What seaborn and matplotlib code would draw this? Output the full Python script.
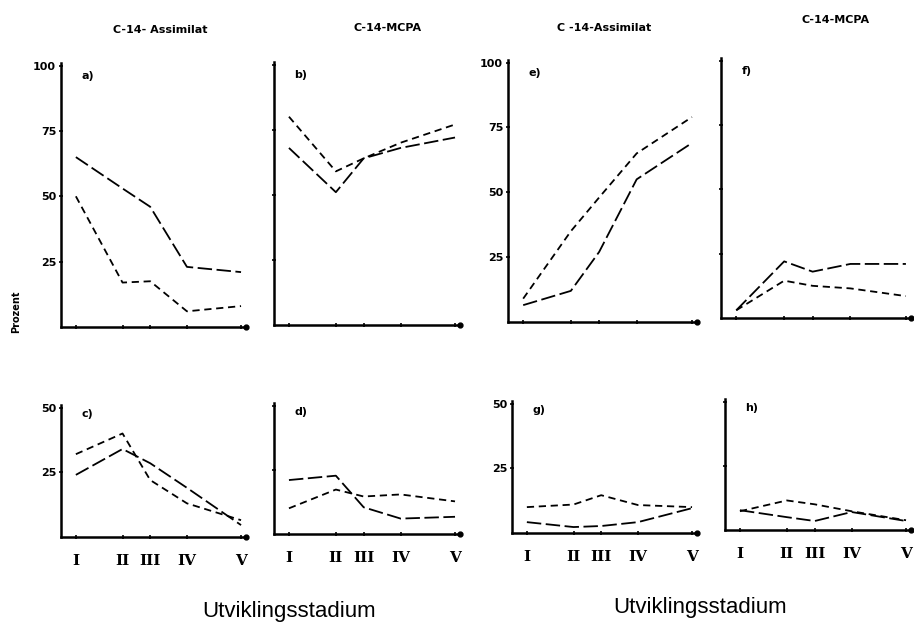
import numpy as np
import pandas as pd
import matplotlib.pyplot as plt
import seaborn as sns

#%% data (long dash / short dash curve per panel)
stages = ['I', 'II', 'III', 'IV', 'V']
stage_pos = [1, 2.13, 2.8, 3.69, 5]     # stages are not evenly spaced on the axis

a_long = [65, 53, 46, 23, 21]
a_short = [50, 17, 17.5, 6, 8]
b_long = [68, 51, 64, 68, 72]
b_short = [80, 59, 64, 70, 77]
c_long = [24, 34, 28.5, 19, 4.6]
c_short = [32, 40, 22, 13, 6.5]
d_long = [21, 22.7, 10.4, 6, 6.7]
d_short = [10, 17.3, 14.6, 15.4, 12.7]
e_long = [6.5, 12, 27, 55, 69]
e_short = [9, 35, 48, 65, 79]
f_long = [3, 22, 18, 21, 21]
f_short = [3, 14.5, 12.5, 11.5, 8.5]
g_long = [4.2, 2.3, 2.7, 4.2, 9.6]
g_short = [10, 11, 14.6, 10.8, 10]
h_long = [7.7, 5, 3.5, 7, 3.5]
h_short = [7.3, 11.5, 10, 7.3, 3.8]

panel_data = {
    'a': (a_long, a_short), 'b': (b_long, b_short),
    'c': (c_long, c_short), 'd': (d_long, d_short),
    'e': (e_long, e_short), 'f': (f_long, f_short),
    'g': (g_long, g_short), 'h': (h_long, h_short),
}

rows = []
for p, (lng, sht) in panel_data.items():
    for name, vals in (('long', lng), ('short', sht)):
        for pos, v in zip(stage_pos, vals):
            rows.append({'panel': p, 'series': name, 'pos': pos, 'value': v})
df = pd.DataFrame(rows)

#%% layout, pixel boxes (left, top, right, bottom) on a 914x625 canvas
W, H = 914, 625
boxes = {
    'a': (61, 63, 246, 327), 'b': (274, 62, 460, 325),
    'e': (508, 60, 697, 322), 'f': (721, 58, 911, 318),
    'c': (61, 405, 246, 537), 'd': (274, 403, 460, 534),
    'g': (512, 401, 697, 533), 'h': (725, 399, 911, 530),
}
label_y = ['a', 'c', 'e', 'g']
bottom_row = ['c', 'd', 'g', 'h']

sns.set_style('ticks')
plt.rcParams['text.color'] = 'black'
plt.rcParams['xtick.color'] = 'black'
plt.rcParams['ytick.color'] = 'black'
plt.rcParams['xtick.labelcolor'] = 'black'
plt.rcParams['ytick.labelcolor'] = 'black'

fig = plt.figure(figsize=(W / 100, H / 100), dpi=100)

for p, (l, t, r, b) in boxes.items():
    ax = fig.add_axes([l / W, 1 - b / H, (r - l) / W, (b - t) / H])
    sub = df[df['panel'] == p]
    sns.lineplot(data=sub, x='pos', y='value', style='series',
                 dashes={'long': (8, 2.5), 'short': (4, 2.6)},
                 color='k', lw=1.3, legend=False, ax=ax)
    ax.set_xlim(0.64, 5.12)
    if p in bottom_row:
        ax.set_ylim(0, 51)
        ax.set_yticks([25, 50])
    else:
        ax.set_ylim(0, 101)
        ax.set_yticks([25, 50, 75, 100])
    ax.set_xticks(stage_pos)
    if p in bottom_row:
        ax.set_xticklabels(stages, fontfamily='DejaVu Serif',
                           fontweight='bold', fontsize=11)
    else:
        ax.set_xticklabels([])
    if p not in label_y:
        ax.set_yticklabels([])
    else:
        ax.set_yticklabels(ax.get_yticks().astype(int), fontweight='bold',
                           fontsize=8)
    ax.tick_params(direction='inout', length=3, width=1.2, pad=2)
    ax.tick_params(axis='x', pad=11)
    ax.set_xlabel('')
    ax.set_ylabel('')
    sns.despine(ax=ax)
    for s in ('left', 'bottom'):
        ax.spines[s].set_linewidth(1.8)
        ax.spines[s].set_color('k')
    ax.plot(1, 0, marker='o', ms=3.5, color='k', transform=ax.transAxes,
            clip_on=False)
    ax.text(0.11, 0.97, p + ')', transform=ax.transAxes, fontsize=8,
            fontweight='bold', va='top')

# column titles
titles = [('C-14- Assimilat', 160, 30), ('C-14-MCPA', 388, 28),
          ('C -14-Assimilat', 604, 28), ('C-14-MCPA', 836, 20)]
for txt, x, y in titles:
    fig.text(x / W, 1 - y / H, txt, ha='center', va='center',
             fontsize=8, fontweight='bold')

fig.text(16 / W, 1 - 312 / H, 'Prozent', rotation=90, ha='center',
         va='center', fontsize=7, fontweight='bold')

for x, y in ((289, 612), (700, 607)):
    fig.text(x / W, 1 - y / H, 'Utviklingsstadium', ha='center',
             va='center', fontsize=16, fontfamily='Liberation Sans')

plt.savefig('out.png', dpi=100)
